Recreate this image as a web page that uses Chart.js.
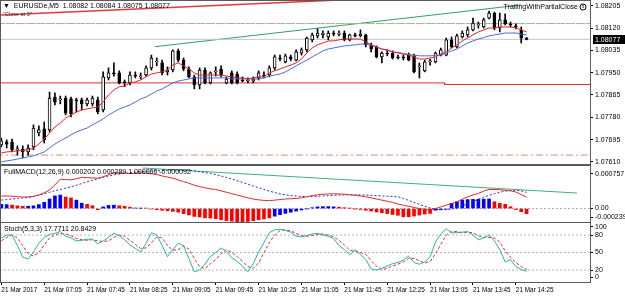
<!DOCTYPE html>
<html lang="en">
<head>
<meta charset="UTF-8">
<title>EURUSDe,M5</title>
<script src="https://cdn.jsdelivr.net/npm/chart.js"></script>
<style>
  body { margin: 0; background: #fff; }
  #wrap { position: relative; width: 625px; height: 297px; overflow: hidden; }
  canvas { position: absolute; left: 0; }
  #mainChart { top: 0; }
  #macdChart { top: 165px; }
  #stochChart { top: 223px; }
</style>
</head>
<body>
<div id="wrap">
  <canvas id="mainChart" width="625" height="168"></canvas>
  <canvas id="macdChart" width="625" height="58"></canvas>
  <canvas id="stochChart" width="625" height="74"></canvas>
</div>
<script>
// ---- data (M5 bars from 06:25 to 14:35) ----
const xTickLabels = ['21 Mar 2017', '21 Mar 07:05', '21 Mar 07:45', '21 Mar 08:25', '21 Mar 09:05',
  '21 Mar 09:45', '21 Mar 10:25', '21 Mar 11:05', '21 Mar 11:45', '21 Mar 12:25',
  '21 Mar 13:05', '21 Mar 13:45', '21 Mar 14:25'];
const priceTicks = [1.08205, 1.08120, 1.08035, 1.07950, 1.07865, 1.07780, 1.07695, 1.07610];

const opens = [
  1.07675, 1.07686, 1.07686, 1.07656, 1.07659, 1.07648, 1.07667, 1.07720, 1.07736, 1.07732,
  1.07857, 1.07846, 1.07853, 1.07850, 1.07846, 1.07846, 1.07831, 1.07831, 1.07846, 1.07808,
  1.07930, 1.07949, 1.07949, 1.07915, 1.07911, 1.07941, 1.07934, 1.07941, 1.07968, 1.07991,
  1.07987, 1.07953, 1.07960, 1.08033, 1.07998, 1.07964, 1.07934, 1.07903, 1.07960, 1.07911,
  1.07953, 1.07964, 1.07911, 1.07949, 1.07945, 1.07922, 1.07918, 1.07918, 1.07930, 1.07941,
  1.07941, 1.07968, 1.08006, 1.07991, 1.08010, 1.07998, 1.08025, 1.08037, 1.08075, 1.08090,
  1.08094, 1.08086, 1.08101, 1.08097, 1.08101, 1.08075, 1.08094, 1.08090, 1.08094, 1.08056,
  1.08048, 1.08010, 1.08025, 1.08025, 1.08010, 1.08010, 1.08017, 1.08014, 1.07972, 1.07957,
  1.07991, 1.07991, 1.08017, 1.08017, 1.08075, 1.08048, 1.08086, 1.08094, 1.08113, 1.08132,
  1.08124, 1.08158, 1.08177, 1.08120, 1.08151, 1.08136, 1.08128, 1.08113, 1.08082];
const highs = [
  1.07701, 1.07694, 1.07697, 1.07671, 1.07671, 1.07675, 1.07751, 1.07747, 1.07762, 1.07876,
  1.07873, 1.07861, 1.07861, 1.07857, 1.07853, 1.07853, 1.07853, 1.07861, 1.07857, 1.07953,
  1.07968, 1.07987, 1.07957, 1.07922, 1.07953, 1.07953, 1.07949, 1.07976, 1.08017, 1.08006,
  1.07998, 1.07972, 1.08037, 1.08040, 1.08006, 1.07972, 1.07941, 1.07968, 1.07968, 1.07953,
  1.07972, 1.07976, 1.07934, 1.07957, 1.07953, 1.07934, 1.07930, 1.07934, 1.07957, 1.07953,
  1.07976, 1.08017, 1.08017, 1.08021, 1.08017, 1.08037, 1.08044, 1.08086, 1.08101, 1.08117,
  1.08109, 1.08109, 1.08109, 1.08109, 1.08109, 1.08097, 1.08101, 1.08113, 1.08097, 1.08063,
  1.08052, 1.08029, 1.08037, 1.08033, 1.08017, 1.08017, 1.08025, 1.08021, 1.07987, 1.07998,
  1.08002, 1.08029, 1.08044, 1.08082, 1.08086, 1.08097, 1.08109, 1.08124, 1.08158, 1.08143,
  1.08158, 1.08185, 1.08181, 1.08177, 1.08174, 1.08143, 1.08136, 1.08124, 1.08084];
const lows = [
  1.07667, 1.07663, 1.07648, 1.07636, 1.07625, 1.07636, 1.07656, 1.07709, 1.07682, 1.07724,
  1.07827, 1.07831, 1.07789, 1.07781, 1.07800, 1.07808, 1.07823, 1.07823, 1.07793, 1.07800,
  1.07922, 1.07937, 1.07907, 1.07896, 1.07903, 1.07930, 1.07926, 1.07937, 1.07960, 1.07976,
  1.07941, 1.07941, 1.07953, 1.07991, 1.07957, 1.07930, 1.07888, 1.07888, 1.07907, 1.07907,
  1.07937, 1.07934, 1.07907, 1.07907, 1.07907, 1.07915, 1.07911, 1.07911, 1.07922, 1.07930,
  1.07934, 1.07960, 1.07995, 1.07987, 1.07995, 1.07995, 1.08017, 1.08029, 1.08067, 1.08082,
  1.08082, 1.08075, 1.08090, 1.08090, 1.08071, 1.08071, 1.08086, 1.08086, 1.08048, 1.08029,
  1.08006, 1.07987, 1.08014, 1.08002, 1.08002, 1.07998, 1.07995, 1.07949, 1.07930, 1.07953,
  1.07979, 1.07987, 1.08014, 1.08014, 1.08044, 1.08044, 1.08082, 1.08086, 1.08109, 1.08120,
  1.08120, 1.08155, 1.08113, 1.08105, 1.08132, 1.08124, 1.08117, 1.08063, 1.08075];
const closes = [
  1.07690, 1.07678, 1.07656, 1.07659, 1.07648, 1.07663, 1.07739, 1.07732, 1.07694, 1.07853,
  1.07838, 1.07850, 1.07796, 1.07793, 1.07842, 1.07831, 1.07846, 1.07853, 1.07800, 1.07934,
  1.07949, 1.07945, 1.07911, 1.07911, 1.07941, 1.07937, 1.07937, 1.07968, 1.08006, 1.07995,
  1.07949, 1.07960, 1.08033, 1.07998, 1.07964, 1.07934, 1.07903, 1.07960, 1.07911, 1.07949,
  1.07957, 1.07941, 1.07926, 1.07911, 1.07911, 1.07918, 1.07922, 1.07926, 1.07949, 1.07937,
  1.07968, 1.08010, 1.08002, 1.08014, 1.08002, 1.08029, 1.08037, 1.08082, 1.08094, 1.08101,
  1.08101, 1.08101, 1.08097, 1.08101, 1.08075, 1.08094, 1.08090, 1.08097, 1.08056, 1.08040,
  1.08010, 1.08025, 1.08021, 1.08006, 1.08006, 1.08006, 1.07998, 1.07953, 1.07976, 1.07991,
  1.07995, 1.08025, 1.08037, 1.08075, 1.08048, 1.08090, 1.08101, 1.08113, 1.08139, 1.08136,
  1.08151, 1.08177, 1.08120, 1.08151, 1.08136, 1.08132, 1.08124, 1.08082, 1.08077];

const fastMA = [
  1.07644, 1.07648, 1.07650, 1.07652, 1.07654, 1.07656, 1.07663, 1.07678, 1.07697, 1.07720,
  1.07743, 1.07758, 1.07777, 1.07789, 1.07800, 1.07808, 1.07812, 1.07816, 1.07819, 1.07838,
  1.07865, 1.07884, 1.07896, 1.07899, 1.07911, 1.07915, 1.07922, 1.07934, 1.07945, 1.07949,
  1.07953, 1.07960, 1.07979, 1.07987, 1.07976, 1.07964, 1.07949, 1.07941, 1.07941, 1.07941,
  1.07941, 1.07941, 1.07937, 1.07934, 1.07930, 1.07930, 1.07926, 1.07930, 1.07934, 1.07934,
  1.07949, 1.07957, 1.07964, 1.07972, 1.07979, 1.07987, 1.08002, 1.08025, 1.08044, 1.08056,
  1.08063, 1.08071, 1.08071, 1.08075, 1.08078, 1.08078, 1.08078, 1.08078, 1.08067, 1.08056,
  1.08048, 1.08040, 1.08037, 1.08029, 1.08025, 1.08021, 1.08017, 1.08010, 1.08002, 1.08002,
  1.08006, 1.08010, 1.08021, 1.08029, 1.08044, 1.08056, 1.08071, 1.08082, 1.08094, 1.08105,
  1.08113, 1.08120, 1.08120, 1.08124, 1.08124, 1.08124, 1.08120, 1.08113, 1.08105];
const slowMA = [
  1.07610, 1.07614, 1.07617, 1.07621, 1.07625, 1.07629, 1.07633, 1.07640, 1.07648, 1.07663,
  1.07678, 1.07690, 1.07701, 1.07713, 1.07724, 1.07732, 1.07739, 1.07751, 1.07762, 1.07774,
  1.07789, 1.07800, 1.07812, 1.07819, 1.07827, 1.07838, 1.07850, 1.07857, 1.07869, 1.07880,
  1.07888, 1.07899, 1.07911, 1.07918, 1.07922, 1.07926, 1.07930, 1.07930, 1.07930, 1.07930,
  1.07930, 1.07930, 1.07930, 1.07926, 1.07926, 1.07926, 1.07926, 1.07926, 1.07926, 1.07930,
  1.07937, 1.07941, 1.07945, 1.07953, 1.07964, 1.07976, 1.07987, 1.07998, 1.08010, 1.08021,
  1.08033, 1.08040, 1.08044, 1.08048, 1.08052, 1.08054, 1.08056, 1.08059, 1.08059, 1.08054,
  1.08048, 1.08040, 1.08035, 1.08029, 1.08027, 1.08023, 1.08019, 1.08017, 1.08014, 1.08014,
  1.08014, 1.08016, 1.08017, 1.08025, 1.08033, 1.08040, 1.08052, 1.08063, 1.08071, 1.08078,
  1.08084, 1.08090, 1.08094, 1.08097, 1.08101, 1.08101, 1.08101, 1.08097, 1.08094];

// objects drawn on the price chart
const bidPrice = 1.08077;
const targetLevel = 1.08137;
const lowLevel = 1.07636;
const redLevelX = [-1, 82.7, 82.7, 111];
const redLevelY = [1.07911, 1.07911, 1.07905, 1.07905];
const redTrendX = [-1, 111];
const redTrendY = [1.08169, 1.08270];
const greenTrendX = [28.7, 97];
const greenTrendY = [1.08049, 1.08208];

// FullMACD(12,26,9), values in millionths
const macdMain = [
  222, 225, 220, 212, 205, 207, 218, 240, 280, 330,
  420, 520, 515, 510, 530, 555, 550, 545, 540, 565,
  600, 640, 635, 630, 625, 628, 632, 630, 620, 605,
  580, 560, 540, 510, 480, 450, 415, 390, 370, 350,
  340, 315, 290, 265, 240, 215, 190, 170, 155, 145,
  140, 150, 160, 170, 175, 180, 190, 210, 230, 245,
  255, 260, 262, 260, 255, 245, 235, 225, 210, 190,
  170, 150, 130, 110, 80, 60, 40, 20, 0, -15,
  -25, 0, 30, 60, 90, 120, 165, 210, 240, 270,
  310, 340, 338, 335, 325, 315, 295, 250, 202];
const macdSignal = [
  151, 160, 170, 180, 187, 195, 215, 240, 265, 290,
  317, 340, 365, 388, 415, 445, 477, 505, 530, 555,
  580, 600, 615, 626, 635, 645, 655, 662, 668, 672,
  676, 680, 685, 685, 684, 680, 670, 655, 640, 626,
  605, 580, 555, 525, 495, 465, 435, 400, 370, 340,
  310, 285, 262, 245, 232, 222, 215, 212, 213, 218,
  224, 230, 236, 240, 243, 245, 245, 243, 240, 236,
  230, 225, 220, 215, 210, 180, 145, 110, 75, 40,
  10, -10, -20, -20, -10, 10, 45, 85, 125, 165,
  200, 235, 265, 290, 310, 322, 328, 315, 289];
const macdHist = [
  75, 70, 62, 48, 40, 42, 48, 70, 110, 170,
  225, 240, 205, 190, 150, 95, 75, 50, -20, 30,
  55, 60, 50, 40, 25, 10, 5, 8, -10, -20,
  -30, -40, -50, -65, -90, -115, -140, -150, -165, -170,
  -180, -200, -215, -225, -235, -239, -230, -215, -200, -185,
  -165, -135, -110, -85, -65, -45, -25, -5, 15, 30,
  35, 35, 30, 25, 15, 5, -5, -15, -30, -45,
  -60, -75, -90, -105, -120, -146, -146, -133, -116, -98,
  -86, -30, -20, -10, 93, 121, 151, 160, 163, 166,
  168, 170, 121, 93, 75, 32, -18, -55, -92];
const macdTrendX = [26.4, 107.4];
const macdTrendY = [721, 276];

// Stoch(5,3,3)
const stochMain = [
  75, 80, 80, 62, 42, 39, 51, 66, 76, 81,
  83, 86, 78, 75, 70, 71, 73, 73, 65, 70,
  76, 83, 79, 72, 63, 57, 51, 66, 84, 80,
  62, 43, 55, 66, 62, 40, 17, 20, 30, 43,
  50, 58, 52, 41, 35, 27, 17, 31, 51, 67,
  84, 89, 90, 88, 85, 78, 77, 79, 82, 83,
  80, 78, 74, 62, 55, 46, 55, 47, 38, 22,
  20, 23, 27, 31, 33, 37, 44, 33, 30, 34,
  43, 68, 82, 91, 84, 84, 85, 86, 80, 72,
  75, 80, 70, 55, 34, 38, 26, 21, 17.7711];
const stochSignal = [
  70, 76, 80, 75, 62, 48, 44, 50, 63, 75,
  80, 83, 82, 79, 74, 72, 71, 72, 70, 69,
  70, 76, 80, 78, 71, 64, 57, 58, 67, 77,
  75, 62, 54, 55, 61, 56, 40, 26, 22, 31,
  38, 48, 55, 50, 43, 35, 26, 23, 32, 50,
  67, 80, 88, 89, 87, 83, 79, 78, 79, 81,
  82, 80, 77, 71, 63, 54, 52, 50, 47, 36,
  27, 21, 23, 27, 30, 34, 40, 40, 36, 32,
  35, 48, 64, 80, 86, 86, 84, 85, 84, 79,
  76, 76, 75, 68, 53, 42, 33, 26, 20.8429];
const stochLevels = [80, 50, 20];

// ---- shared setup ----
const FONT = '"Liberation Sans", Arial, sans-serif';
Chart.defaults.font.family = FONT;
Chart.defaults.font.size = 7;
Chart.defaults.color = '#000';

const X_MIN = -0.06, X_MAX = 109.83;
const idx = closes.map((_, i) => i);
const pts = (xs, ys) => xs.map((x, i) => ({ x: x, y: ys[i] }));
const series = arr => arr.map((v, i) => ({ x: i, y: v }));
const hline = v => [{ x: -1, y: v }, { x: 111, y: v }];

function lineDs(data, color, extra) {
  return Object.assign({ type: 'line', data: data, borderColor: color, borderWidth: 1,
    pointRadius: 0, fill: false, tension: 0, order: 1 }, extra || {});
}

function hiddenX() {
  return { type: 'linear', min: X_MIN, max: X_MAX, offset: false, display: false };
}

function rightAxis(min, max, tickValues, labelFor) {
  return {
    position: 'right', min: min, max: max,
    afterBuildTicks: s => { s.ticks = tickValues.map(v => ({ value: v })); },
    afterFit: s => { s.width = 35; s.paddingTop = 0; s.paddingBottom = 0; },
    ticks: { padding: 2, autoSkip: false, callback: (v, i) => labelFor(v, i) },
    grid: { drawOnChartArea: false, drawTicks: true, tickLength: 3, color: '#000' },
    border: { display: false }
  };
}

// frame round the panel plus its caption texts
function panel(texts, extra) {
  return {
    id: 'panel',
    afterDraw(chart) {
      const ctx = chart.ctx, a = chart.chartArea;
      ctx.save();
      ctx.strokeStyle = '#5a5a5a';
      ctx.lineWidth = 1;
      ctx.strokeRect(a.left - 0.5, a.top - 0.5, a.right - a.left + 1, a.bottom - a.top + 1);
      ctx.textBaseline = 'middle';
      texts.forEach(t => {
        ctx.font = (t.size || 7) + 'px ' + FONT;
        ctx.fillStyle = t.color || '#000';
        ctx.fillText(t.text, a.left + t.dx, a.top + t.dy);
      });
      if (extra) extra(chart, ctx, a);
      ctx.restore();
    }
  };
}

const baseOptions = {
  responsive: false, animation: false, devicePixelRatio: 1,
  plugins: { legend: { display: false }, tooltip: { enabled: false } }
};

// ---- price chart ----
new Chart(document.getElementById('mainChart'), {
  type: 'bar',
  data: {
    datasets: [
      lineDs(pts(redTrendX, redTrendY), '#e23a3a', { borderWidth: 1.5, order: 9 }),
      lineDs(hline(targetLevel), '#8fbf8f', { borderDash: [6, 4], order: 9 }),
      lineDs(hline(targetLevel), '#f08a8a', { borderDash: [3, 7], borderDashOffset: -6, order: 9 }),
      lineDs(hline(bidPrice), '#c4c4c4', { order: 9 }),
      lineDs(pts(redLevelX, redLevelY), '#e03030', { order: 9 }),
      lineDs(hline(lowLevel), '#e08a70', { borderDash: [7, 3, 2, 3], order: 9 }),
      lineDs(pts(greenTrendX, greenTrendY), '#2f9e6a', { order: 9 }),
      { type: 'bar', data: idx.map(i => ({ x: i, y: [lows[i], highs[i]] })),
        backgroundColor: '#000', borderWidth: 0, barThickness: 1, grouped: false, order: 6 },
      { type: 'bar', data: idx.map(i => ({ x: i, y: [opens[i], closes[i]] })),
        backgroundColor: idx.map(i => closes[i] >= opens[i] ? '#ffffff' : '#000000'),
        borderColor: '#000', borderWidth: 1, borderSkipped: false, minBarLength: 1,
        barThickness: 3, grouped: false, order: 5 },
      lineDs(series(slowMA), '#4a6cd8', { order: 2 }),
      lineDs(series(fastMA), '#e02424', { order: 1 })
    ]
  },
  options: Object.assign({}, baseOptions, {
    layout: { padding: { left: 1, top: 1, right: 0, bottom: 4 } },
    scales: {
      x: hiddenX(),
      y: rightAxis(1.07602, 1.08223, priceTicks, v => Number(v).toFixed(5))
    }
  }),
  plugins: [panel([
    { text: '\u25BC  EURUSDe,M5  1.08082 1.08084 1.08075 1.08077', dx: 2, dy: 5 },
    { text: '"Close at 3"', dx: 2, dy: 13, size: 5.5, color: '#333' }
  ], (chart, ctx, a) => {
    // bid price box on the axis
    const y = chart.scales.y.getPixelForValue(bidPrice);
    ctx.fillStyle = '#000';
    ctx.fillRect(a.right + 3, Math.round(y) - 4, 32, 9);
    ctx.fillStyle = '#fff';
    ctx.font = '7px ' + FONT;
    ctx.fillText(bidPrice.toFixed(5), a.right + 5, y + 0.5);
    // expert advisor label
    ctx.fillStyle = '#000';
    ctx.font = '7px ' + FONT;
    ctx.textAlign = 'right';
    ctx.fillText('TrailingWithPartialClose', a.right - 12, a.top + 6);
    ctx.beginPath();
    ctx.arc(a.right - 7, a.top + 6, 3, 0, Math.PI * 2);
    ctx.strokeStyle = '#000';
    ctx.stroke();
    ctx.textAlign = 'center';
    ctx.font = '5px ' + FONT;
    ctx.fillText('x', a.right - 7, a.top + 5.5);
  })]
});

// ---- MACD ----
const MACD_UNIT = 1e-6;
const macdMin = -0.000239, macdMax = 0.000757;
const macdLabels = ['0.000757', '0.00', '-0.000239'];
const macdSpan = (macdMax - macdMin) / 56;
new Chart(document.getElementById('macdChart'), {
  type: 'bar',
  data: {
    datasets: [
      lineDs(hline(0), '#a8a8a8', { borderDash: [2, 2], order: 9 }),
      lineDs(pts(macdTrendX, macdTrendY.map(v => v * MACD_UNIT)), '#3cb371', { order: 8 }),
      { type: 'bar', data: macdHist.map((v, i) => ({ x: i, y: v * MACD_UNIT })),
        backgroundColor: macdHist.map((v, i) => (i === 0 || macdMain[i] >= macdMain[i - 1]) ? '#0000ff' : '#ff0000'),
        borderWidth: 0, barThickness: 3, grouped: false, order: 5 },
      lineDs(series(macdSignal.map(v => v * MACD_UNIT)), '#2b2bd0', { borderDash: [2, 2], order: 2 }),
      lineDs(series(macdMain.map(v => v * MACD_UNIT)), '#e02828', { order: 1 })
    ]
  },
  options: Object.assign({}, baseOptions, {
    layout: { padding: { left: 1, top: 1, right: 0, bottom: 1 } },
    scales: {
      x: hiddenX(),
      y: rightAxis(macdMin, macdMax, [macdMax - 8 * macdSpan, 0, macdMin + 5 * macdSpan],
        (v, i) => macdLabels[i])
    }
  }),
  plugins: [panel([
    { text: 'FullMACD(12,26,9) 0.000202 0.000289 1.000000 -0.000092', dx: 3, dy: 6 }
  ])]
});

// ---- Stochastic ----
const stochLabels = ['100', '80', '50', '20', '0'];
new Chart(document.getElementById('stochChart'), {
  type: 'line',
  data: {
    datasets: stochLevels.map(v => lineDs(hline(v), '#b4b4b4', { borderDash: [2, 2], order: 9 })).concat([
      lineDs(series(stochSignal), '#e03030', { borderDash: [3, 2], order: 2 }),
      lineDs(series(stochMain), '#26b2a8', { order: 1 })
    ])
  },
  options: Object.assign({}, baseOptions, {
    layout: { padding: { left: 1, top: 0, right: 0, bottom: 0 } },
    scales: {
      x: {
        type: 'linear', min: X_MIN, max: X_MAX, offset: false,
        afterBuildTicks: s => { s.ticks = xTickLabels.map((_, k) => ({ value: k * 8 })); },
        afterFit: s => { s.height = 15; s.paddingLeft = 0; s.paddingRight = 0; },
        ticks: { align: 'start', maxRotation: 0, autoSkip: false, padding: 1,
          font: { size: 6.4 }, callback: (v, i) => xTickLabels[i] },
        grid: { drawOnChartArea: false, drawTicks: true, tickLength: 3, color: '#000' },
        border: { display: false }
      },
      y: rightAxis(-0.5, 100.7, [94, 80, 50, 20, 8], (v, i) => stochLabels[i])
    }
  }),
  plugins: [panel([
    { text: 'Stoch(5,3,3) 17.7711 20.8429', dx: 3, dy: 6 }
  ])]
});
</script>
</body>
</html>
